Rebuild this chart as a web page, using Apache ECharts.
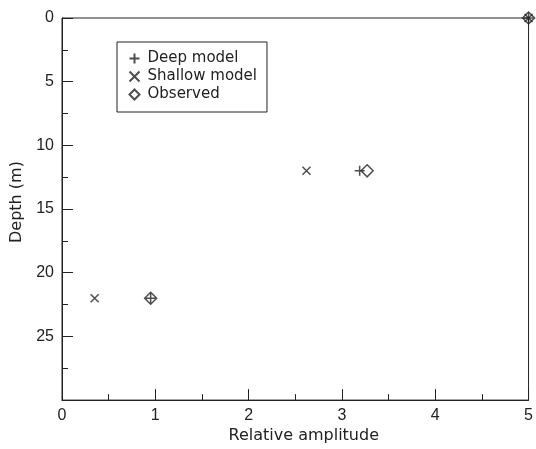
<!DOCTYPE html>
<html>
<head>
<meta charset="utf-8">
<script src="https://cdn.jsdelivr.net/npm/echarts@6/dist/echarts.min.js"></script>
<style>html,body{margin:0;padding:0;background:#fff}#c{width:536px;height:449px}</style>
</head>
<body>
<div id="c"></div>
<script>
// Data
const deepX = [5, 3.19, 0.95];
const deepY = [0, 12, 22];
const shallowX = [5, 2.62, 0.35];
const shallowY = [0, 12, 22];
const obsX = [5, 3.27, 0.95];
const obsY = [0, 12, 22];
const seriesNames = ['Deep model', 'Shallow model', 'Observed'];
const xTicks = [0, 1, 2, 3, 4, 5];
const yTicks = [0, 5, 10, 15, 20, 25];

const zip = (xs, ys) => xs.map((x, i) => [x, ys[i]]);
const FONT = 'Liberation Sans, Arial, sans-serif';
const WIDE = 'DejaVu Sans, sans-serif';
const INK = '#222';

const plusPath = 'path://M0,5L10,5M5,0L5,10';
const crossPath = 'path://M0,0L10,10M10,0L0,10';

const chart = echarts.init(document.getElementById('c'), null, {renderer: 'canvas'});
chart.setOption({
  animation: false,
  backgroundColor: '#fff',
  textStyle: {fontFamily: FONT, color: INK},
  grid: {left: 62, right: 3, top: 18, bottom: 46, show: true, borderColor: INK, borderWidth: 1, containLabel: false},
  legend: {
    orient: 'vertical',
    left: 117, top: 42,
    padding: [9, 10, 10, 10],
    borderColor: INK, borderWidth: 1,
    itemGap: 3,
    itemWidth: 10, itemHeight: 10,
    textStyle: {fontFamily: WIDE, fontSize: 15, color: INK, padding: [0, 0, 0, 3]},
    data: seriesNames
  },
  xAxis: {
    type: 'value', min: 0, max: 5, interval: 1,
    name: 'Relative amplitude', nameLocation: 'middle', nameGap: 27,
    nameTextStyle: {fontSize: 16, color: INK, fontFamily: WIDE, padding: [0, 0, 0, 17]},
    axisLine: {show: true, onZero: false, lineStyle: {color: INK, width: 1}},
    axisTick: {show: true, inside: true, length: 11, lineStyle: {color: INK}},
    minorTick: {show: true, splitNumber: 2, length: 6, lineStyle: {color: INK}},
    splitLine: {show: false},
    axisLabel: {fontSize: 16, color: INK, margin: 7, fontFamily: FONT,
      formatter: v => xTicks.includes(v) ? String(v) : ''}
  },
  yAxis: {
    type: 'value', inverse: true, min: 0, max: 30, interval: 5,
    name: 'Depth (m)', nameLocation: 'middle', nameGap: 36, nameRotate: 90,
    nameTextStyle: {fontSize: 16, color: INK, fontFamily: WIDE, padding: [0, 0, 0, 14]},
    axisLine: {show: true, onZero: false, lineStyle: {color: INK, width: 1}},
    axisTick: {show: true, inside: true, length: 11, lineStyle: {color: INK}},
    minorTick: {show: true, splitNumber: 2, length: 6, lineStyle: {color: INK}},
    splitLine: {show: false},
    axisLabel: {fontSize: 16, color: INK, margin: 8, fontFamily: FONT,
      formatter: v => yTicks.includes(v) ? String(v) : ''}
  },
  series: [
    {
      name: seriesNames[0], type: 'scatter', data: zip(deepX, deepY),
      symbol: plusPath, symbolSize: 10, clip: false,
      itemStyle: {color: 'none', borderColor: INK, borderWidth: 1.5}
    },
    {
      name: seriesNames[1], type: 'scatter', data: zip(shallowX, shallowY),
      symbol: crossPath, symbolSize: 8, clip: false,
      itemStyle: {color: 'none', borderColor: INK, borderWidth: 1.5}
    },
    {
      name: seriesNames[2], type: 'scatter', data: zip(obsX, obsY),
      symbol: 'diamond', symbolSize: 12, clip: false,
      itemStyle: {color: 'none', borderColor: INK, borderWidth: 1.5}
    }
  ]
});
</script>
</body>
</html>
